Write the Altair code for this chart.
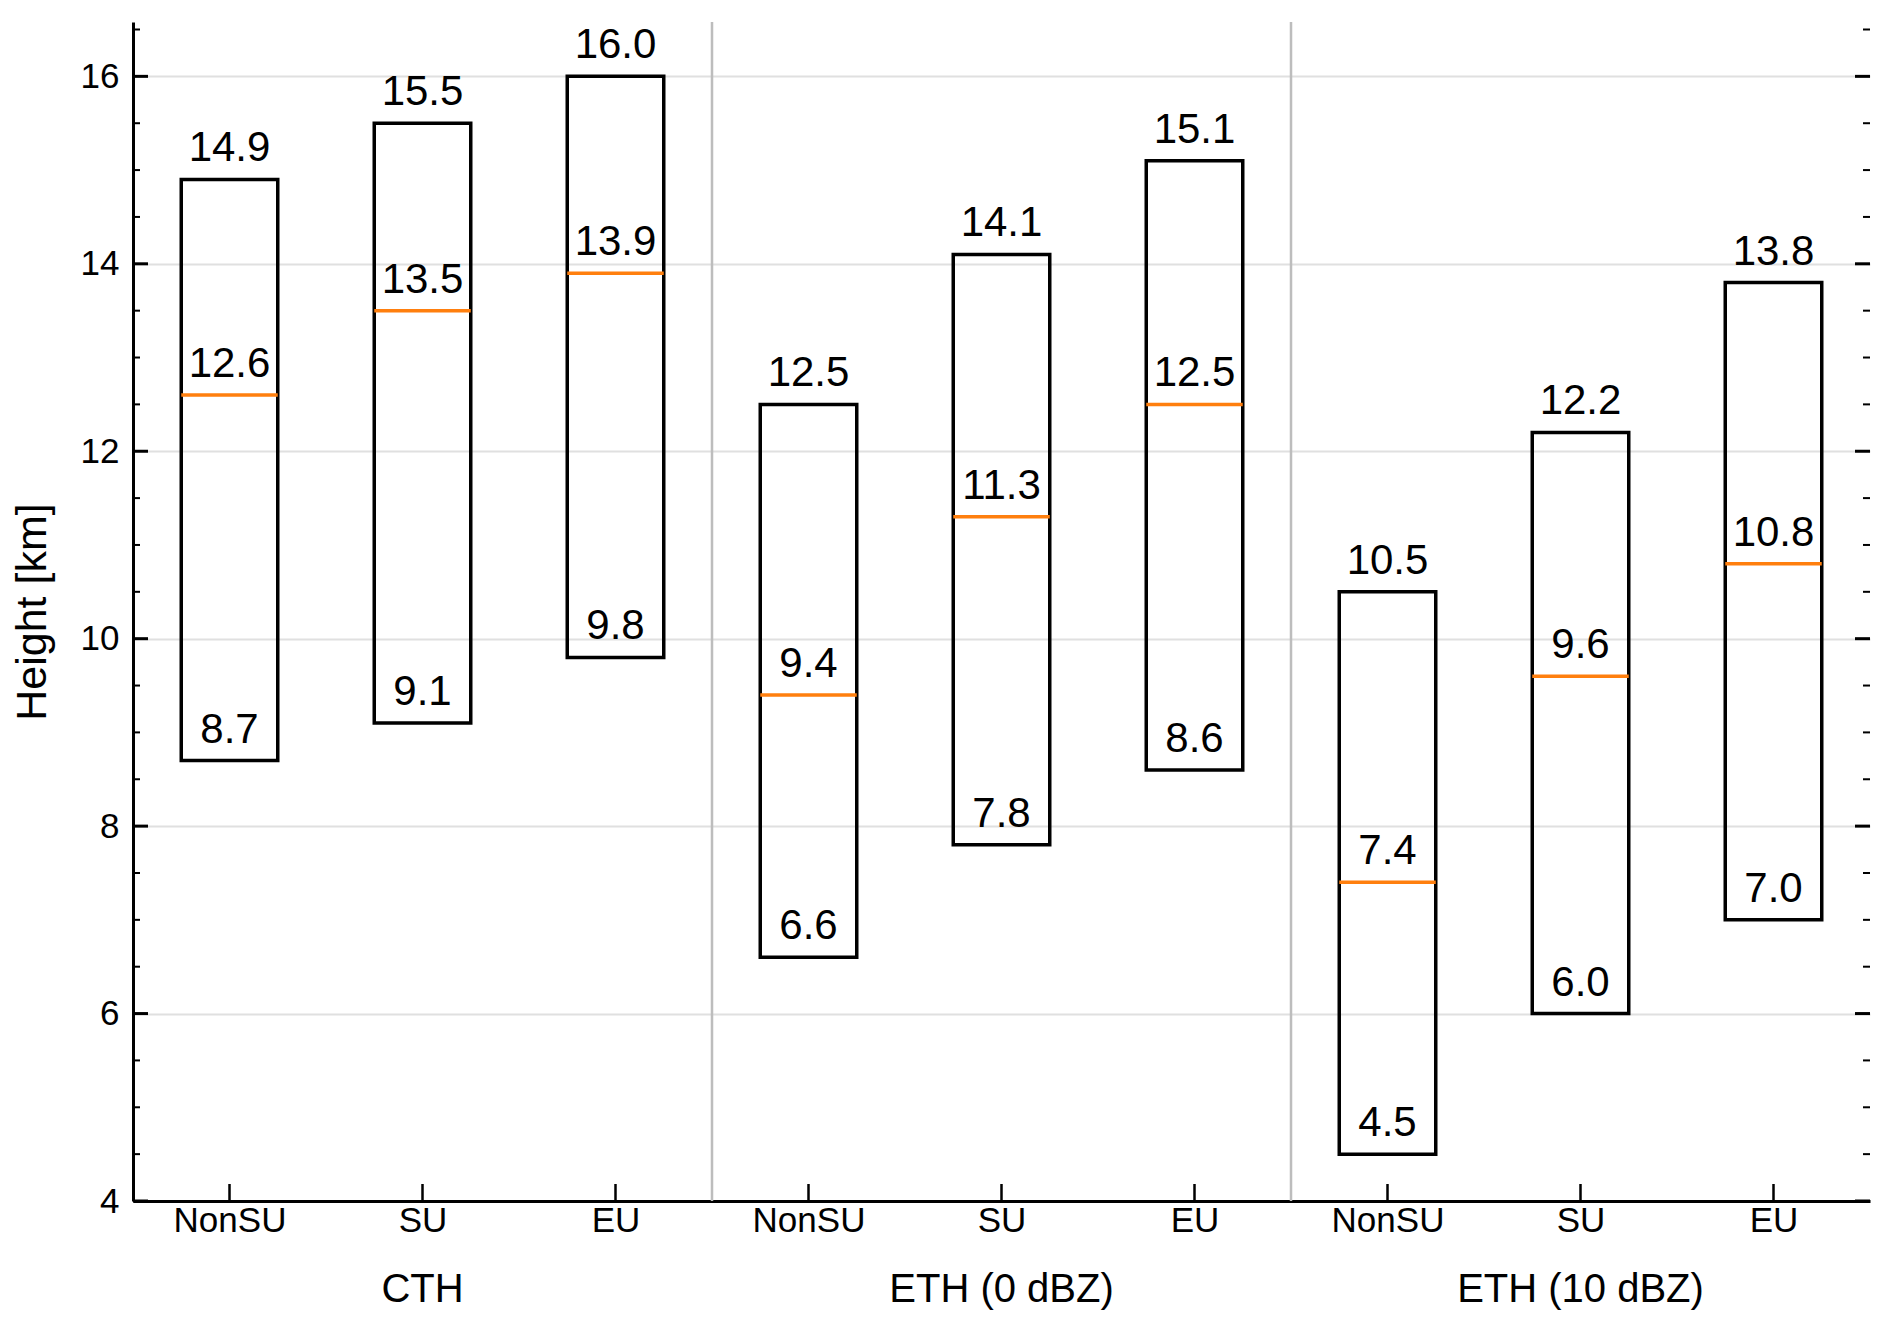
import altair as alt
import pandas as pd

# ---------------- data ----------------
groups = ["CTH", "ETH (0 dBZ)", "ETH (10 dBZ)"]
types = ["NonSU", "SU", "EU"]
top = [14.9, 15.5, 16.0, 12.5, 14.1, 15.1, 10.5, 12.2, 13.8]
median = [12.6, 13.5, 13.9, 9.4, 11.3, 12.5, 7.4, 9.6, 10.8]
bottom = [8.7, 9.1, 9.8, 6.6, 7.8, 8.6, 4.5, 6.0, 7.0]

y_major = [4, 6, 8, 10, 12, 14, 16]
y_minor = [4.5, 5, 5.5, 6.5, 7, 7.5, 8.5, 9, 9.5, 10.5, 11, 11.5,
           12.5, 13, 13.5, 14.5, 15, 15.5, 16.5]
separators = [2.5, 5.5]

# ---------------- layout ----------------
W, H = 1737, 1179
FONT = "Liberation Sans"
BOX_HALF = 0.25

pos = list(range(len(top)))
boxes = pd.DataFrame({
    "pos": pos,
    "group": [g for g in groups for _ in types],
    "type": types * len(groups),
    "top": top,
    "median": median,
    "bottom": bottom,
})
labels = boxes.melt(id_vars=["pos"], value_vars=["top", "median", "bottom"],
                    var_name="kind", value_name="value")
group_df = pd.DataFrame({"pos": [1, 4, 7], "group": groups})
sep_df = pd.DataFrame({"x": separators})
major_df = pd.DataFrame({"v": y_major})
minor_df = pd.DataFrame({"v": y_minor})
xt_df = pd.DataFrame({"pos": pos})

xscale = alt.Scale(domain=[-0.5, 8.5], nice=False, zero=False)
yscale = alt.Scale(domain=[4, 16.58], nice=False, zero=False)

label_expr = "[" + ",".join("'%s'" % t for t in types) + "][datum.value % 3]"

x_axis = alt.Axis(values=pos, labelExpr=label_expr, ticks=False, grid=False,
                  domainColor="black", domainWidth=3, labelFont=FONT,
                  labelFontSize=35, labelColor="black", labelPadding=2,
                  labelFlush=False, labelOverlap=False, title="")
y_axis = alt.Axis(values=y_major, ticks=False, grid=True, gridColor="#e0e0e0",
                  gridWidth=2, domainColor="black", domainWidth=3,
                  labelFont=FONT, labelFontSize=35, labelColor="black",
                  labelPadding=14, labelFlush=False, labelOverlap=False,
                  title="Height [km]", titleFont=FONT, titleFontSize=43,
                  titleFontWeight="normal", titleColor="black",
                  titleX=-88, titleBaseline="alphabetic")

X = lambda f: alt.X(f, scale=xscale, axis=x_axis)
Y = lambda f: alt.Y(f, scale=yscale, axis=y_axis)

base = alt.Chart(boxes).transform_calculate(
    lo=f"datum.pos - {BOX_HALF}", hi=f"datum.pos + {BOX_HALF}"
)

rects = base.mark_rect(fillOpacity=0, stroke="black", strokeWidth=3.5).encode(
    x=X("lo:Q"), x2="hi:Q", y=Y("bottom:Q"), y2="top:Q",
)

medians = base.mark_rule(color="#ff7f0e", strokeWidth=3.5).encode(
    x=X("lo:Q"), x2="hi:Q", y=Y("median:Q"),
)

seps = alt.Chart(sep_df).mark_rule(color="#bdbdbd", strokeWidth=2.5).encode(
    x=X("x:Q"), y=alt.value(0), y2=alt.value(H),
)

texts = alt.Chart(labels).mark_text(
    font=FONT, fontSize=42, color="black", align="center",
    baseline="alphabetic", dy=-18
).encode(
    x=X("pos:Q"), y=Y("value:Q"),
    text=alt.Text("value:Q", format=".1f"),
)

group_text = alt.Chart(group_df).mark_text(
    font=FONT, fontSize=40, color="black", align="center", baseline="alphabetic"
).encode(
    x=X("pos:Q"), y=alt.value(H + 101), text="group:N",
)

def yticks(df, x0, x1, w):
    return alt.Chart(df).mark_rule(color="black", strokeWidth=w).encode(
        y=Y("v:Q"), x=alt.value(x0), x2=alt.value(x1),
    )

ticks_layers = [
    yticks(major_df, 0, 15, 3),
    yticks(minor_df, 0, 7, 2),
    yticks(major_df, W - 15, W, 3),
    yticks(minor_df, W - 7, W, 2),
]

xticks = alt.Chart(xt_df).mark_rule(color="black", strokeWidth=2.5).encode(
    x=X("pos:Q"), y=alt.value(H - 17), y2=alt.value(H),
)

chart = alt.layer(
    seps, rects, medians, texts, group_text, xticks, *ticks_layers
).properties(
    width=W, height=H,
    background="white",
    autosize=alt.AutoSizeParams(type="none"),
    padding={"left": 125, "top": 14, "right": 14, "bottom": 121},
).configure_view(stroke="transparent", strokeWidth=0)

chart.save("out.html", embed_options={"renderer": "svg", "actions": False})
